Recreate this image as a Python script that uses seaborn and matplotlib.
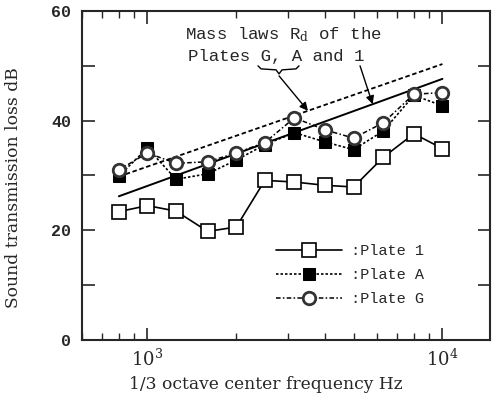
import numpy as np
import matplotlib
matplotlib.use("Agg")
import matplotlib.pyplot as plt
import seaborn as sns

# 1/3 octave centre frequencies
freq = [800, 1000, 1250, 1600, 2000, 2500, 3150, 4000, 5000, 6300, 8000, 10000]

# sound transmission loss (dB)
plate_1 = [23.4, 24.5, 23.5, 19.8, 20.6, 29.1, 28.8, 28.2, 27.9, 33.3, 37.6, 34.9]
plate_a = [29.9, 35.0, 29.3, 30.3, 32.8, 35.6, 37.8, 36.1, 34.7, 38.1, 44.6, 42.7]
plate_g = [31.0, 34.1, 32.2, 32.5, 34.1, 36.0, 40.5, 38.3, 36.8, 39.6, 44.8, 45.1]

# mass law lines (end points)
mass_freq = [800, 10000]
mass_ga = [29.8, 50.3]
mass_1 = [26.2, 47.6]

sns.set_style("ticks")
plt.rcParams["font.family"] = ["DejaVu Serif"]
plt.rcParams["mathtext.fontset"] = "dejavuserif"

fig = plt.figure(figsize=(4.94, 4.01), dpi=100)
ax = fig.add_axes([0.166, 0.152, 0.826, 0.821])

# mass laws
sns.lineplot(x=mass_freq, y=mass_ga, ax=ax, color="black", lw=1.3,
             linestyle=(0, (2.5, 1.5)), legend=False)
sns.lineplot(x=mass_freq, y=mass_1, ax=ax, color="black", lw=1.4,
             linestyle="-", legend=False)

# measured plates
sns.lineplot(x=freq, y=plate_1, ax=ax, color="black", lw=1.2, linestyle="-",
             marker="s", markersize=10, markerfacecolor="white",
             markeredgecolor="black", markeredgewidth=1.2, label=":Plate 1")
sns.lineplot(x=freq, y=plate_a, ax=ax, color="black", lw=1.2, linestyle=(0, (1.5, 1.2)),
             marker="s", markersize=8, markerfacecolor="black",
             markeredgecolor="black", label=":Plate A")
sns.lineplot(x=freq, y=plate_g, ax=ax, color="black", lw=1.1, linestyle=(0, (3, 1.5, 1, 1.5)),
             marker="o", markersize=9, markerfacecolor="white",
             markeredgecolor="#333333", markeredgewidth=2.0, label=":Plate G")

mono = "Liberation Mono"

ax.set_xscale("log")
ax.set_xlim(600, 14500)
ax.set_ylim(0, 60)
ax.set_yticks([0, 20, 40, 60])
ax.set_yticks([10, 30, 50], minor=True)
ax.tick_params(which="both", direction="in", top=True, right=True)
ax.tick_params(axis="x", which="major", length=9, width=1.2, labelsize=13, pad=6)
ax.tick_params(axis="x", which="minor", length=5, width=1.0)
ax.tick_params(axis="y", which="both", length=9, width=1.2, pad=8)
for lab in ax.get_yticklabels():
    lab.set_family(mono)
    lab.set_fontsize(12)
    lab.set_fontweight("bold")
for s in ax.spines.values():
    s.set_linewidth(1.5)

ax.set_xlabel("1/3 octave center frequency Hz", fontsize=12.3)
ax.set_ylabel("Sound transmission loss dB", fontsize=12.3)
ax.xaxis.set_label_coords(0.451, -0.108)
ax.yaxis.set_label_coords(-0.147, 0.462)

# annotation text
def px(x, y):
    # figure pixel -> axes fraction
    return ((x - 82) / 408.0, (340 - y) / 329.0)

ax.text(*px(185, 35), r"Mass laws R$_{\rm d}$ of the", transform=ax.transAxes,
        family=mono, fontsize=12.5, ha="left", va="center")
ax.text(*px(188, 57), "Plates G, A and 1", transform=ax.transAxes,
        family=mono, fontsize=12.5, ha="left", va="center")

brace = [px(258, 66), px(261, 69), px(276, 70), px(279, 74),
         px(282, 70), px(296, 69), px(299, 66)]
bx, by = zip(*brace)
ax.plot(bx, by, color="black", lw=1.0, transform=ax.transAxes)

lx = np.log10(mass_freq)
t1 = 3500
ax.annotate("", xy=(t1, np.interp(np.log10(t1), lx, mass_ga)), xycoords="data",
            xytext=px(279, 76), textcoords="axes fraction",
            arrowprops=dict(arrowstyle="-|>", color="black", lw=1.0, mutation_scale=12,
                            shrinkA=0, shrinkB=0))
t2 = 5800
ax.annotate("", xy=(t2, np.interp(np.log10(t2), lx, mass_1)), xycoords="data",
            xytext=px(360, 66), textcoords="axes fraction",
            arrowprops=dict(arrowstyle="-|>", color="black", lw=1.0, mutation_scale=12,
                            shrinkA=0, shrinkB=0))

ax.legend(loc="upper left", bbox_to_anchor=px(270, 238), frameon=False,
          prop={"family": mono, "size": 11}, handlelength=4.3, numpoints=1,
          labelspacing=0.65, handletextpad=0.6, borderaxespad=0)

fig.savefig("out.png", dpi=100)
